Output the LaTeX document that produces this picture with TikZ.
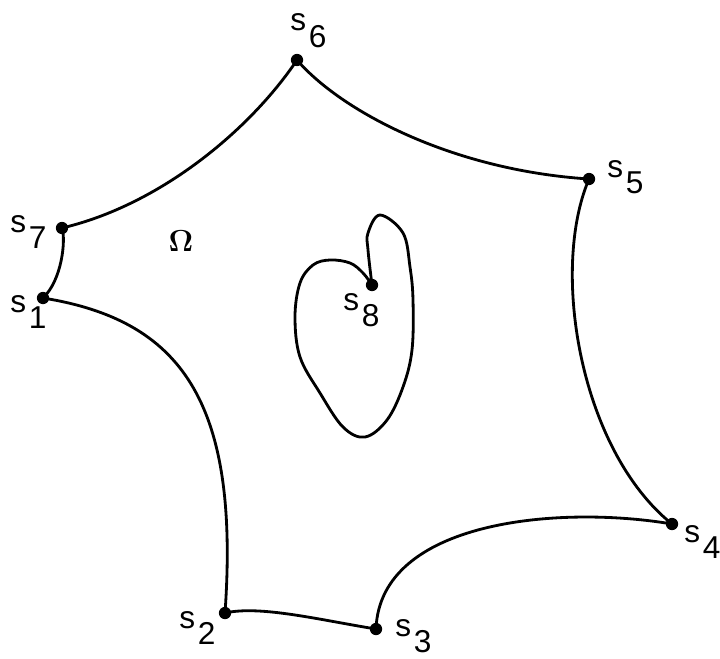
\documentclass[tikz,border=0pt]{standalone}
\usepackage[no-math]{fontspec}
\setsansfont{Liberation Sans}
\usepackage{amsmath}
\usetikzlibrary{positioning,calc}
\newcommand{\slab}[1]{\fontsize{18}{21}\sffamily s\kern1.5pt\raisebox{-0.33cm}{#1}}

\begin{document}
\begin{tikzpicture}[x=0.02cm,y=-0.02cm,line width=1.6pt,line join=round,
    pt/.style={circle,fill,inner sep=0pt,minimum size=7pt},
    lab/.style={anchor=base west,inner sep=0pt}]
  \useasboundingbox (0,0) rectangle (720,659);
  % corner points
  \node[pt] (s1) at (43,298) {};
  \node[pt] (s2) at (225,613) {};
  \node[pt] (s3) at (376,629) {};
  \node[pt] (s4) at (672,524) {};
  \node[pt] (s5) at (589,179) {};
  \node[pt] (s6) at (297,60) {};
  \node[pt] (s7) at (62,228) {};
  \node[pt] (s8) at (372,285) {};
  % labels
  \node[lab] (l1) at (9,312) {\slab{1}};
  \node[lab] (l2) at (178,628) {\slab{2}};
  \node[lab] (l3) at (394,636) {\slab{3}};
  \node[lab] (l4) at (683,542) {\slab{4}};
  \node[lab] (l5) at (606,177) {\slab{5}};
  \node[lab] (l6) at (289,31) {\slab{6}};
  \node[lab] (l7) at (9,232) {\slab{7}};
  \node[lab] (l8) at (342,310) {\slab{8}};
  \node (om) at (181,241) {\fontsize{17}{20}\selectfont$\mathbf{\Omega}$};
  % outer boundary
  \draw (s7.center) .. controls (160,205) and (250,130) .. (s6.center)
        .. controls (340,110) and (450,170) .. (s5.center)
        .. controls (550,270) and (580,450) .. (s4.center)
        .. controls (560,505) and (380,520) .. (s3.center)
        .. controls (320,620) and (260,605) .. (s2.center)
        .. controls (240,400) and (180,320) .. (s1.center)
        .. controls (62,280) and (66,240) .. (s7.center);
  % inner loop
  \draw plot[smooth,tension=0.6] coordinates {(s8.center) (368,250) (368,233) (380,215)
        (403,233) (410,267) (413,300) (412,350) (403,387) (387,420) (365,437)
        (343,427) (320,393) (300,357) (295,317) (300,283) (313,265) (330,260)
        (350,263) (363,273) (s8.center)};
\end{tikzpicture}
\end{document}
